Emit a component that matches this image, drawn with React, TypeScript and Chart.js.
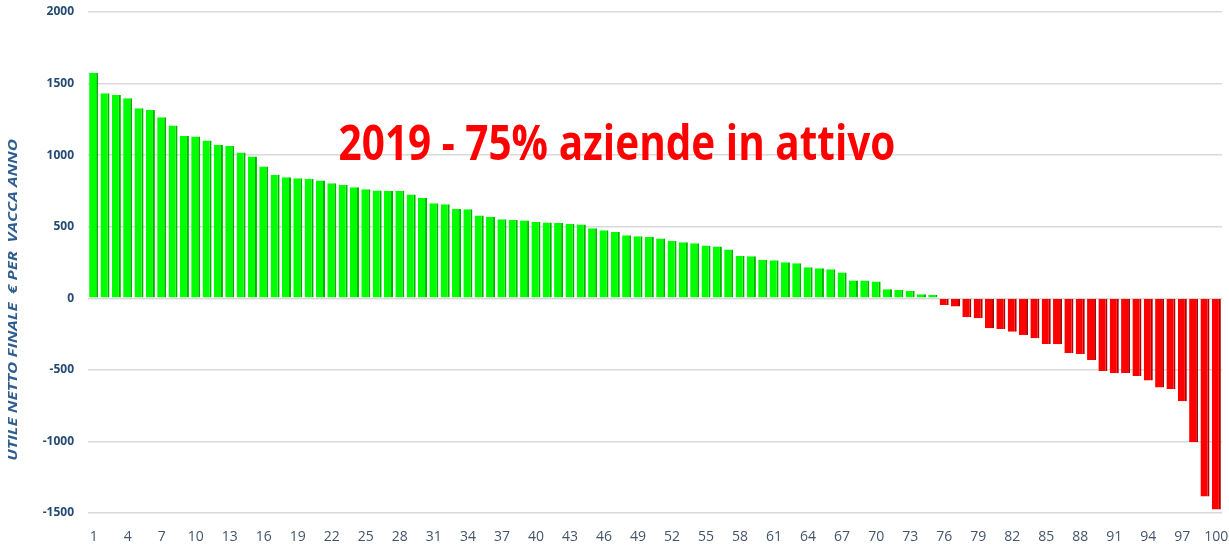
import React, { useEffect, useRef } from 'react';
import { Chart, registerables } from 'chart.js';

Chart.register(...registerables);

const TITLE = '2019 - 75% aziende in attivo';
const Y_TITLE = 'UTILE NETTO FINALE  € PER  VACCA ANNO';

const categories: string[] = Array.from({ length: 100 }, (_, i) => String(i + 1));

const positiveValues: number[] = [
  1575, 1432, 1421, 1398, 1328, 1316, 1265, 1207, 1134, 1130,
  1102, 1071, 1064, 1018, 990, 920, 862, 846, 839, 834,
  822, 804, 792, 776, 762, 753, 750, 751, 725, 702,
  664, 657, 624, 622, 578, 568, 552, 547, 543, 533,
  529, 526, 519, 515, 489, 475, 463, 440, 433, 428,
  417, 400, 391, 384, 368, 361, 340, 296, 293, 270,
  266, 252, 245, 217, 210, 203, 180, 124, 124, 117,
  63, 58, 51, 28, 23,
];

const negativeValues: number[] = [
  -47, -58, -133, -140, -210, -214, -233, -256, -280, -319,
  -321, -384, -389, -431, -508, -524, -522, -543, -575, -624,
  -634, -720, -1005, -1385, -1475,
];

const values: number[] = [...positiveValues, ...negativeValues];

const yTicks: number[] = [-1500, -1000, -500, 0, 500, 1000, 1500, 2000];

const overlayText = {
  id: 'overlayText',
  afterDatasetsDraw(chart: any) {
    const { ctx, scales } = chart;
    const x = scales.x;
    const y = scales.y;
    ctx.save();
    ctx.font = 'bold 49px "Open Sans"';
    ctx.fillStyle = '#FF0000';
    ctx.textBaseline = 'alphabetic';
    ctx.textAlign = 'left';
    const left = x.getPixelForValue(21.6);
    const right = x.getPixelForValue(70.7);
    const w = ctx.measureText(TITLE).width;
    const sx = (right - left) / w;
    const base = y.getPixelForValue(969);
    ctx.translate(left, base);
    ctx.scale(sx, 1);
    ctx.fillText(TITLE, 0, 0);
    ctx.restore();

    ctx.save();
    ctx.font = 'italic bold 13px "Open Sans"';
    ctx.fillStyle = '#2E5D8E';
    ctx.textAlign = 'center';
    ctx.textBaseline = 'middle';
    const tw = ctx.measureText(Y_TITLE).width;
    const target = y.getPixelForValue(-1137) - y.getPixelForValue(1110);
    const s = target / tw;
    ctx.translate(13, y.getPixelForValue(-12));
    ctx.rotate(-Math.PI / 2);
    ctx.scale(s, 1);
    ctx.fillText(Y_TITLE, 0, 0);
    ctx.restore();
  },
};

export default function App() {
  const ref = useRef<HTMLCanvasElement | null>(null);

  useEffect(() => {
    if (!ref.current) return;
    const chart = new Chart(ref.current, {
      type: 'bar',
      data: {
        labels: categories,
        datasets: [
          {
            data: values,
            backgroundColor: (c: any) => ((c.raw ?? 0) >= 0 ? '#00FF00' : '#FF0000'),
            borderColor: (c: any) => ((c.raw ?? 0) >= 0 ? '#00B400' : '#B00000'),
            borderWidth: { top: 0, left: 0, bottom: 0, right: 2 } as any,
            borderSkipped: false,
            barPercentage: 0.8,
            categoryPercentage: 1,
          },
        ],
      },
      options: {
        responsive: false,
        animation: false,
        layout: { padding: { left: 0, right: 7, top: 12, bottom: 0 } },
        plugins: {
          legend: { display: false },
          tooltip: { enabled: false },
          title: { display: false },
        },
        scales: {
          x: {
            grid: { display: false, drawTicks: false },
            border: { display: false },
            ticks: {
              autoSkip: false,
              maxRotation: 0,
              minRotation: 0,
              padding: 16,
              color: '#44546A',
              font: { family: '"Open Sans"', size: 14 },
              callback: (_v: any, i: number) => (i % 3 === 0 ? categories[i] : ''),
            },
            afterFit: (s: any) => {
              s.height = 39;
              s.paddingLeft = 0;
              s.paddingRight = 0;
            },
          },
          y: {
            min: yTicks[0],
            max: yTicks[yTicks.length - 1],
            afterBuildTicks: (s: any) => {
              s.ticks = yTicks.map((v) => ({ value: v }));
            },
            grid: { color: '#D9D9D9', lineWidth: 1.5, drawTicks: false },
            border: { display: false },
            ticks: {
              padding: 14,
              color: '#254A72',
              font: { family: '"Open Sans"', size: 12, weight: 'bold' },
              callback: (v: any) => String(v),
            },
            afterFit: (s: any) => {
              s.width = 88;
              s.paddingTop = 0;
              s.paddingBottom = 0;
            },
          },
        },
      },
      plugins: [overlayText],
    });
    return () => chart.destroy();
  }, []);

  return (
    <div style={{ position: 'absolute', left: 0, top: 0, width: 1229, height: 552, background: '#fff' }}>
      <canvas ref={ref} width={1229} height={552} />
    </div>
  );
}
